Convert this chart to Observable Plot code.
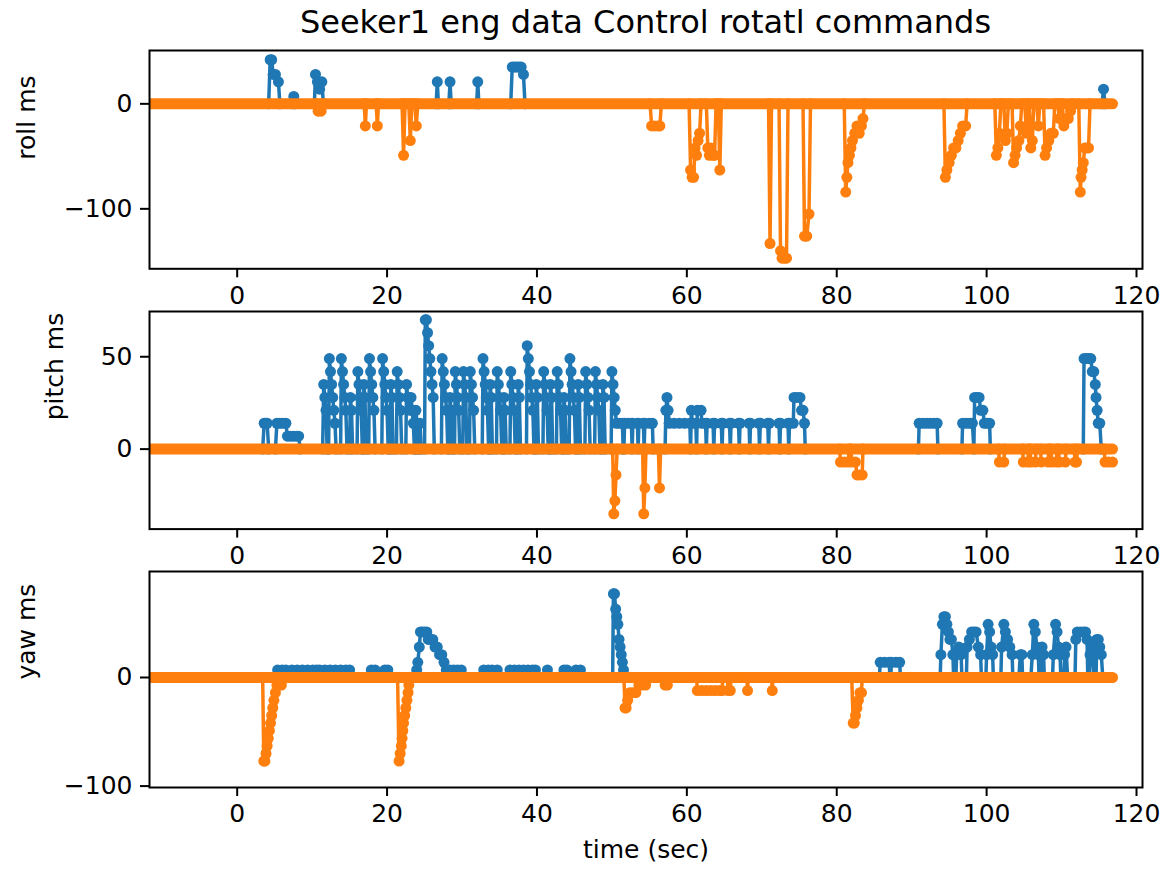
<!DOCTYPE html>
<html><head><meta charset="utf-8">
<script src="https://cdn.jsdelivr.net/npm/d3@7"></script>
<script src="https://cdn.jsdelivr.net/npm/@observablehq/plot@0.6"></script>
<style>
body{margin:0;background:#fff;font-family:"DejaVu Sans",sans-serif;}
#fig{position:relative;width:1160px;height:873px;overflow:hidden;background:#fff;}
#title{position:absolute;left:149px;width:993px;top:3px;text-align:center;font-size:32px;color:#000;font-family:"DejaVu Sans",sans-serif;white-space:nowrap;}
.panel{position:absolute;left:0;}
</style></head><body>
<div id="fig"><div id="title">Seeker1 eng data Control rotatl commands</div></div>
<script>
const BLUE = "#1f77b4", ORANGE = "#ff7f0e";
const xDomain = [-11.7, 120.8];
const xTicks = [0, 20, 40, 60, 80, 100, 120];
const baseline = [[-13, 0], [116.8, 0]];

// ---- roll ms ----
const rollBlue = [[4.2,0],[4.4,42],[4.6,42],[4.8,28],[5.1,28],[5.5,21],[5.7,0],
[7.4,0],[7.55,7],[7.7,0],
[10.3,0],[10.45,28],[10.7,21],[11.0,14],[11.3,21],[11.5,0],
[26.55,0],[26.7,21],[26.85,0],[28.25,0],[28.4,21],[28.55,0],[31.95,0],[32.1,21],[32.25,0],
[36.5,0],[36.7,35],[37.0,35],[37.3,35],[37.6,35],[37.9,35],[38.2,28],[38.4,0],
[115.4,0],[115.6,14],[115.8,0]];
const rollOrange = [[10.6,0],[10.8,-7],[11.2,-7],[11.4,0],
[16.95,0],[17.1,-21],[17.25,0],[18.55,0],[18.7,-21],[18.85,0],
[22.0,0],[22.2,-49],[22.4,0],[22.9,0],[23.1,-35],[23.3,0],[23.7,0],[23.9,-21],[24.1,0],
[55.1,0],[55.3,-21],[55.7,-21],[56.1,-21],[56.4,-21],[56.6,0],
[60.3,0],[60.5,-63],[60.7,-70],[60.9,-70],[61.1,-42],[61.3,-49],[61.5,-35],[61.7,-28],[61.9,0],
[62.6,0],[62.8,-42],[63.0,-49],[63.2,-42],[63.5,-49],[63.7,-49],[63.9,0],[64.2,0],[64.4,-63],[64.6,0],
[70.9,0],[71.1,-133],[71.3,0],
[72.3,0],[72.5,-140],[72.7,-147],[73.0,-147],[73.3,-147],[73.5,0],
[75.5,0],[75.7,-126],[76.0,-126],[76.3,-105],[76.5,0],
[81.0,0],[81.2,-84],[81.35,-70],[81.5,-56],[81.7,-49],[81.9,-42],[82.1,-35],[82.4,-28],[82.7,-21],[83.0,-28],[83.3,-21],[83.5,-14],[83.7,0],
[94.3,0],[94.5,-70],[94.7,-63],[95.0,-56],[95.3,-49],[95.6,-42],[95.9,-42],[96.2,-35],[96.5,-28],[96.8,-21],[97.2,-21],[97.4,0],
[101.1,0],[101.3,-49],[101.5,-42],[101.7,-28],[101.9,0],[102.3,0],[102.5,-35],[102.7,-28],[102.9,0],
[103.4,0],[103.6,-56],[103.8,-49],[104.0,-42],[104.3,-35],[104.5,-21],[104.7,0],[105.1,0],[105.3,-28],[105.5,0],
[105.7,0],[105.9,-42],[106.1,-35],[106.3,0],[106.7,0],[106.9,-21],[107.1,0],
[107.6,0],[107.8,-49],[108.0,-42],[108.3,-35],[108.6,-28],[108.9,-28],[109.1,0],[109.5,0],[109.7,-14],[109.9,0],
[110.1,0],[110.3,-21],[110.6,-14],[110.9,-14],[111.2,-7],[111.4,0],
[112.3,0],[112.5,-84],[112.6,-70],[112.75,-63],[112.9,-56],[113.1,-42],[113.3,-42],[113.6,-42],[113.8,0]];

// ---- pitch ms ----
const pitchBlue = [[3.4,0],[3.6,14],[3.8,14],[4.0,14],[4.2,0],
[5.1,0],[5.3,14],[5.7,14],[6.1,14],[6.5,14],[6.7,7],[7.1,7],[7.5,7],[7.9,7],[8.2,7],[8.4,0],
[11.4,0],[11.55,35],[11.7,28],[11.85,21],[12.0,0],
[12.2,0],[12.3,49],[12.45,42],[12.6,35],[12.75,28],[12.9,21],[13.05,14],[13.2,0],
[13.8,0],[13.9,49],[14.05,42],[14.2,35],[14.35,28],[14.5,21],[14.65,0],
[15.0,0],[15.1,28],[15.25,21],[15.4,0],
[16.0,0],[16.1,42],[16.25,35],[16.4,28],[16.55,21],[16.7,0],
[16.8,0],[16.9,35],[17.05,28],[17.2,0],
[17.55,0],[17.65,49],[17.8,42],[17.95,35],[18.1,28],[18.25,21],[18.4,0],
[19.3,0],[19.4,49],[19.55,42],[19.7,35],[19.85,28],[20.0,21],[20.15,0],
[20.4,0],[20.5,35],[20.65,28],[20.8,0],
[21.25,0],[21.35,42],[21.5,35],[21.65,28],[21.8,21],[21.95,0],
[22.5,0],[22.6,35],[22.75,28],[22.9,28],[23.05,21],[23.2,28],[23.35,21],[23.5,14],[23.65,0],
[23.75,0],[23.85,21],[24.0,14],[24.1,0],[24.3,0],[24.4,14],[24.55,0],
[25.0,0],[25.1,70],[25.25,70],[25.4,63],[25.55,56],[25.7,49],[25.85,42],[26.0,35],[26.15,28],[26.3,0],
[27.25,0],[27.35,49],[27.5,42],[27.65,35],[27.8,28],[27.95,21],[28.1,0],
[28.3,0],[28.4,28],[28.55,21],[28.7,0],
[29.0,0],[29.1,42],[29.25,35],[29.4,28],[29.55,21],[29.7,0],
[30.1,0],[30.2,42],[30.35,35],[30.5,28],[30.65,0],
[31.0,0],[31.1,42],[31.25,35],[31.4,28],[31.55,21],[31.7,0],
[32.7,0],[32.8,49],[32.95,42],[33.1,35],[33.25,28],[33.4,21],[33.55,0],
[33.65,0],[33.75,35],[33.9,28],[34.05,0],
[34.6,0],[34.7,42],[34.85,35],[35.0,28],[35.15,21],[35.3,0],
[35.5,0],[35.6,28],[35.75,21],[35.9,0],
[36.4,0],[36.5,42],[36.65,35],[36.8,28],[36.95,21],[37.1,0],
[37.4,0],[37.5,35],[37.65,28],[37.8,0],
[38.6,0],[38.7,56],[38.85,49],[39.0,42],[39.15,35],[39.3,28],[39.45,21],[39.6,0],
[39.8,0],[39.9,35],[40.05,28],[40.2,0],
[40.8,0],[40.9,42],[41.05,35],[41.2,28],[41.35,21],[41.5,0],
[41.7,0],[41.8,35],[41.95,28],[42.1,0],
[42.6,0],[42.7,42],[42.85,35],[43.0,28],[43.15,21],[43.3,0],
[43.5,0],[43.6,28],[43.75,21],[43.9,0],
[44.3,0],[44.4,49],[44.55,42],[44.7,35],[44.85,28],[45.0,21],[45.15,0],
[45.4,0],[45.5,35],[45.65,28],[45.8,0],
[46.4,0],[46.5,42],[46.65,35],[46.8,28],[46.95,21],[47.1,0],
[47.7,0],[47.8,42],[47.95,35],[48.1,28],[48.25,21],[48.4,0],
[48.7,0],[48.8,35],[48.95,28],[49.1,0],
[49.9,0],[50.0,42],[50.15,35],[50.3,28],[50.45,21],[50.6,14],[51.0,14],[51.4,14],[51.5,0],
[51.6,0],[51.7,14],[52.2,14],[52.6,14],[52.7,0],[52.8,14],[53.4,14],[53.5,0],[53.6,14],[54.2,14],[54.3,0],[54.4,14],[55.0,14],[55.4,14],[55.5,0],
[57.1,0],[57.2,21],[57.35,28],[57.5,21],[57.65,14],[58.3,14],[59.0,14],[59.7,14],[60.4,14],[60.5,0],[60.6,21],[60.75,14],[61.2,14],[61.3,0],
[61.4,21],[61.9,21],[62.0,14],[62.5,14],[62.6,0],[62.7,14],[63.5,14],[63.6,0],[63.7,14],[64.6,14],[64.7,0],[64.8,14],[65.7,14],[65.8,0],
[65.9,14],[66.9,14],[67.0,0],[67.1,14],[68.3,14],[68.4,0],[68.5,14],[69.6,14],[69.7,0],[69.8,14],[70.8,14],[70.9,0],[71.0,14],[72.3,14],[72.4,0],
[72.5,14],[73.5,14],[73.6,0],[73.7,14],[74.2,14],[74.3,28],[74.7,28],[75.1,28],[75.3,21],[75.5,21],[75.7,14],[75.8,0],
[90.9,0],[91.0,14],[91.5,14],[92.0,14],[92.5,14],[93.0,14],[93.4,14],[93.5,0],
[96.7,0],[96.8,14],[97.3,14],[97.8,14],[98.1,14],[98.3,0],[98.4,28],[98.7,28],[99.0,28],[99.2,21],[99.5,21],[99.7,14],[100.1,14],[100.4,14],[100.5,0],
[112.9,0],[113.0,49],[113.3,49],[113.6,49],[113.9,49],[114.1,42],[114.3,42],[114.5,35],[114.6,28],[114.75,21],[114.9,14],[115.1,14],[115.3,0]];
const pitchOrange = [[50.1,0],[50.25,-35],[50.4,-28],[50.55,-14],[50.7,0],
[54.1,0],[54.25,-35],[54.4,-21],[54.55,0],[56.2,0],[56.35,-21],[56.5,0],
[80.4,0],[80.5,-7],[81.0,-7],[81.5,-7],[81.7,0],[81.9,0],[82.0,-7],[82.5,-7],[82.7,-14],[83.0,-14],[83.4,-14],[83.5,0],
[101.6,0],[101.7,-7],[102.3,-7],[102.4,0],
[104.8,0],[104.9,-7],[105.5,-7],[105.6,0],[105.8,0],[105.9,-7],[106.5,-7],[106.6,0],[107.2,0],[107.3,-7],[108.2,-7],[108.3,0],
[108.6,0],[108.7,-7],[109.3,-7],[109.4,0],[109.6,0],[109.7,-7],[110.5,-7],[110.6,0],
[111.7,0],[111.8,-7],[112.0,-7],[112.1,0],
[115.7,0],[115.8,-7],[116.3,-7],[116.8,-7]];

// ---- yaw ms ----
const yawBlue = [[5.2,0],[5.4,7],[6.0,7],[6.5,7],[6.6,0],[7.2,0],[7.3,7],[8.0,7],[8.7,7],[9.4,7],[10.1,7],[10.6,7],[10.7,0],
[10.9,0],[11.0,7],[11.7,7],[12.4,7],[13.1,7],[13.8,7],[14.5,7],[15.0,7],[15.1,0],
[17.8,0],[17.9,7],[18.4,7],[18.5,0],[19.6,0],[19.7,7],[20.1,7],[20.2,0],
[23.8,0],[23.95,7],[24.1,14],[24.3,28],[24.45,42],[24.7,42],[25.0,42],[25.3,42],[25.5,35],[25.8,35],[26.1,35],[26.4,28],[26.7,28],[27.0,21],[27.3,21],[27.6,14],[27.9,7],[28.4,7],[28.9,7],[29.4,7],[29.9,7],[30.0,0],
[32.8,0],[32.9,7],[33.5,7],[33.6,0],[33.9,0],[34.0,7],[34.7,7],[34.8,0],
[36.3,0],[36.4,7],[37.0,7],[37.6,7],[38.2,7],[38.8,7],[39.4,7],[39.8,7],[39.9,0],
[41.3,0],[41.4,7],[41.5,0],[43.5,0],[43.6,7],[44.0,7],[44.1,0],[45.1,0],[45.2,7],[45.8,7],[45.9,0],
[50.1,0],[50.2,77],[50.35,77],[50.5,63],[50.65,56],[50.8,49],[50.95,35],[51.1,28],[51.25,21],[51.4,14],[51.55,7],[51.7,0],
[85.7,0],[85.8,14],[86.4,14],[87.0,14],[87.1,0],[87.2,0],[87.3,14],[87.9,14],[88.4,14],[88.5,0],
[93.8,0],[93.9,21],[94.1,49],[94.3,56],[94.5,56],[94.7,49],[94.9,42],[95.1,35],[95.3,35],[95.5,21],[95.6,0],
[95.9,0],[96.0,21],[96.3,28],[96.6,21],[96.7,0],
[97.3,0],[97.4,28],[97.7,35],[98.0,42],[98.3,42],[98.6,42],[98.9,28],[99.2,21],[99.3,0],
[99.9,0],[100.0,21],[100.2,49],[100.4,42],[100.6,28],[100.8,21],[100.9,0],
[101.9,0],[102.0,28],[102.3,49],[102.5,42],[102.8,35],[103.1,28],[103.4,21],[103.5,0],
[104.3,0],[104.5,21],[104.7,21],[104.8,0],
[105.9,0],[106.1,21],[106.3,49],[106.5,42],[106.7,28],[106.9,21],[107.0,0],
[107.3,0],[107.4,28],[107.6,21],[107.7,0],
[108.8,0],[108.9,21],[109.2,49],[109.4,42],[109.6,28],[109.8,21],[109.9,0],
[110.3,0],[110.4,21],[110.6,28],[110.8,0],
[111.8,0],[111.9,35],[112.1,42],[112.5,42],[112.9,42],[113.2,42],[113.4,35],[113.5,0],
[113.7,0],[113.8,21],[114.1,28],[114.3,0],
[114.6,0],[114.7,35],[114.9,35],[115.1,28],[115.3,21],[115.5,0]];
const yawOrange = [[3.4,0],[3.55,-77],[3.7,-77],[3.85,-70],[4.0,-63],[4.15,-56],[4.3,-49],[4.45,-42],[4.6,-35],[4.75,-28],[4.9,-21],[5.1,-14],[5.3,-7],[5.6,-7],[5.9,-7],[6.0,0],
[21.4,0],[21.6,-77],[21.75,-70],[21.9,-63],[22.0,-56],[22.1,-49],[22.2,-42],[22.35,-35],[22.5,-28],[22.65,-21],[22.8,-14],[22.9,-7],[23.0,0],
[51.6,0],[51.75,-28],[51.9,-28],[52.1,-21],[52.4,-14],[52.8,-14],[53.2,-14],[53.6,-7],[54.0,-7],[54.5,-7],[54.6,0],
[56.9,0],[57.1,-7],[57.4,-7],[57.5,0],
[61.3,0],[61.4,-12],[62.0,-12],[62.6,-12],[63.2,-12],[63.8,-12],[64.4,-12],[64.7,-12],[64.8,0],
[65.4,0],[65.5,-12],[65.8,-12],[65.9,0],[68.0,0],[68.1,-12],[68.2,0],[71.3,0],[71.4,-12],[71.5,0],
[82.0,0],[82.2,-42],[82.35,-42],[82.5,-35],[82.7,-28],[82.9,-21],[83.1,-14],[83.3,-14],[83.4,0]];

const panels = [
  {blue: rollBlue, orange: rollOrange, yDomain: [-157.1, 50.8], yTicks: [-100, 0], label: "roll ms", labelX: 26, top: 50, bottom: 268.3},
  {blue: pitchBlue, orange: pitchOrange, yDomain: [-43.3, 74.5], yTicks: [0, 50], label: "pitch ms", labelX: 54, top: 310.7, bottom: 528.3},
  {blue: yawBlue, orange: yawOrange, yDomain: [-101.3, 97.6], yTicks: [-100, 0], label: "yaw ms", labelX: 26, top: 570.7, bottom: 786.7, xlabel: "time (sec)"}
];

const fmt = d => d < 0 ? "\u2212" + Math.abs(d) : String(d);
const X = d => d[0], Y = d => d[1];
const fig = document.getElementById("fig");

for (const p of panels) {
  const mt = 10, mb = 90;
  const h = (p.bottom - p.top) + mt + mb;
  const marks = [
    Plot.line(p.blue, {x: X, y: Y, stroke: BLUE, strokeWidth: 3.5, clip: true}),
    Plot.dot(p.blue, {x: X, y: Y, r: 5.5, fill: BLUE, clip: true}),
    Plot.line(baseline, {x: X, y: Y, stroke: ORANGE, strokeWidth: 11, strokeLinecap: "round", clip: true}),
    Plot.line(p.orange, {x: X, y: Y, stroke: ORANGE, strokeWidth: 3.5, clip: true}),
    Plot.dot(p.orange, {x: X, y: Y, r: 5.5, fill: ORANGE, clip: true}),
    Plot.frame({stroke: "black", strokeWidth: 2}),
    Plot.axisX({ticks: xTicks, tickSize: 9, tickPadding: 8, strokeWidth: 2, tickFormat: fmt, fontSize: 25, label: null}),
    Plot.axisY({ticks: p.yTicks, tickSize: 9, tickPadding: 8, strokeWidth: 2, tickFormat: fmt, fontSize: 25, label: null}),
    Plot.text([p.label], {frameAnchor: "left", rotate: -90, dx: p.labelX - 149, fontSize: 25, fill: "black"})
  ];
  if (p.xlabel) marks.push(Plot.text([p.xlabel], {frameAnchor: "bottom", dy: 70, fontSize: 25, fill: "black"}));
  const svg = Plot.plot({
    width: 1160, height: h,
    marginLeft: 149, marginRight: 18, marginTop: mt, marginBottom: mb,
    style: {fontFamily: "DejaVu Sans", fontSize: "25px", background: "transparent", overflow: "visible", color: "black"},
    x: {domain: xDomain, label: null},
    y: {domain: p.yDomain, label: null},
    marks
  });
  svg.classList.add("panel");
  svg.style.top = (p.top - mt) + "px";
  fig.appendChild(svg);
}
</script>
</body></html>
